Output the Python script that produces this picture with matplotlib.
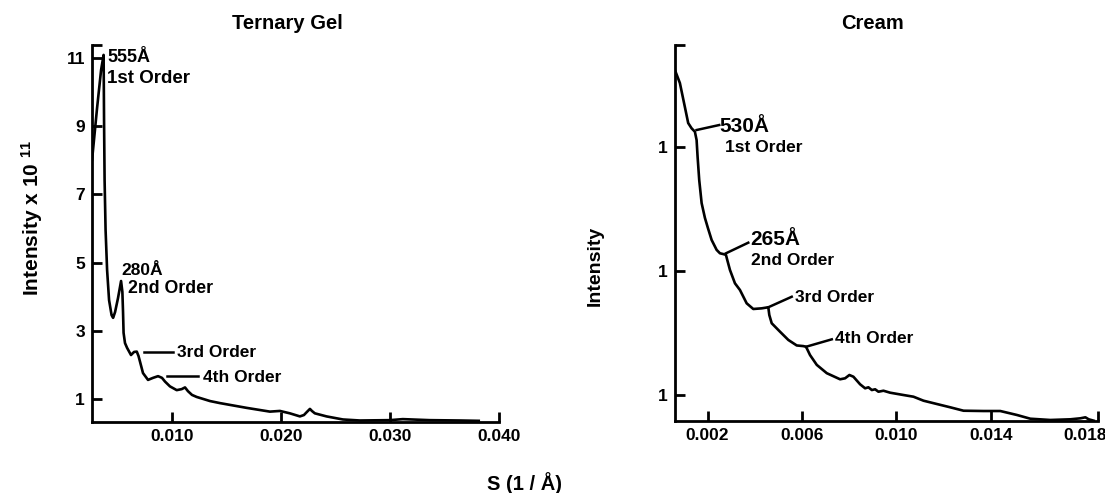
import matplotlib
matplotlib.use('Agg')
import matplotlib.pyplot as plt
from matplotlib.ticker import FixedLocator, NullFormatter

plt.rcParams['font.family'] = ['Liberation Sans', 'DejaVu Sans']
plt.rcParams['font.weight'] = 'bold'
plt.rcParams['mathtext.fontset'] = 'custom'
plt.rcParams['mathtext.rm'] = 'Liberation Sans:bold'
plt.rcParams['mathtext.default'] = 'rm'

# Ternary gel scattering curve (S in 1/A, intensity x 1e11)
gel_s = [0.00270, 0.00316, 0.00353, 0.00376, 0.00380, 0.00385, 0.00394, 0.00408,
         0.00426, 0.00449, 0.00463, 0.00481, 0.00508, 0.00536, 0.00548, 0.00554,
         0.00559, 0.00572, 0.00591, 0.00627, 0.00655, 0.00680, 0.00696, 0.00710,
         0.00737, 0.00783, 0.00829, 0.00875, 0.00911, 0.00939, 0.00984, 0.01046,
         0.01092, 0.01122, 0.01149, 0.01186, 0.01229, 0.01351, 0.01442, 0.01687,
         0.01900, 0.01992, 0.02083, 0.02175, 0.02212, 0.02239, 0.02267, 0.02285,
         0.02312, 0.02419, 0.02569, 0.02724, 0.02999, 0.03118, 0.03365, 0.03640,
         0.03814]
gel_i = [8.01, 9.53, 10.65, 11.09, 9.18, 7.42, 5.96, 4.78,
         3.90, 3.46, 3.38, 3.55, 3.96, 4.46, 4.14, 3.55,
         2.94, 2.64, 2.50, 2.29, 2.38, 2.39, 2.26, 2.09,
         1.76, 1.56, 1.62, 1.67, 1.62, 1.51, 1.37, 1.26,
         1.29, 1.34, 1.23, 1.12, 1.06, 0.94, 0.88, 0.74,
         0.63, 0.65, 0.58, 0.49, 0.53, 0.62, 0.71, 0.65,
         0.58, 0.49, 0.40, 0.37, 0.38, 0.41, 0.38, 0.37,
         0.36]
gel_xticks = [0.010, 0.020, 0.030, 0.040]
gel_yticks = [1, 3, 5, 7, 9, 11]

# Cream scattering curve (log intensity)
cream_s = [0.000613, 0.000825, 0.001037, 0.001177, 0.001321, 0.001461, 0.001533, 0.001576,
           0.001644, 0.001746, 0.001886, 0.002013, 0.002170, 0.002382, 0.002522, 0.002662,
           0.002776, 0.002831, 0.002946, 0.003158, 0.003370, 0.003654, 0.003934, 0.004291,
           0.004571, 0.004613, 0.004715, 0.005067, 0.005419, 0.005775, 0.006055, 0.006170,
           0.006339, 0.006624, 0.007048, 0.007612, 0.007824, 0.008006, 0.008176, 0.008460,
           0.008672, 0.008812, 0.008957, 0.009097, 0.009236, 0.009449, 0.009733, 0.010297,
           0.010721, 0.011145, 0.011714, 0.012278, 0.012842, 0.013690, 0.014399, 0.015107,
           0.015671, 0.016520, 0.017368, 0.017792, 0.018004, 0.018144, 0.018356]
cream_i = [418, 328, 210, 156, 141.5, 132.8, 113.8, 83.0,
           54.2, 35.3, 26.8, 22.2, 17.8, 14.8, 13.9, 13.7,
           13.5, 12.3, 10.2, 7.96, 7.03, 5.49, 4.94, 5.00,
           5.10, 4.42, 3.79, 3.24, 2.78, 2.51, 2.48, 2.45,
           2.10, 1.75, 1.50, 1.339, 1.364, 1.45, 1.405, 1.22,
           1.133, 1.154, 1.097, 1.112, 1.063, 1.083, 1.044, 1.0,
           0.969, 0.900, 0.846, 0.796, 0.747, 0.743, 0.743, 0.690,
           0.644, 0.629, 0.637, 0.649, 0.661, 0.637, 0.621]
cream_xticks = [0.002, 0.006, 0.010, 0.014, 0.018]
cream_yticks = [1, 10, 100]
cream_ytick_labels = ['1', '1', '1']

# annotations: (text, text x, text y, size, leader line or None)
gel_notes = [
    ('555Å', 0.00408, 11.0, 13, None),
    ('1st Order', 0.00408, 10.41, 13.5, None),
    ('280Å', 0.00542, 4.78, 12.5, None),
    ('2nd Order', 0.00600, 4.23, 12.8, None),
    ('3rd Order', 0.01049, 2.35, 12.5, ((0.00746, 0.01009), (2.38, 2.38))),
    ('4th Order', 0.01287, 1.645, 12.5, ((0.00954, 0.01241), (1.674, 1.674))),
]
cream_notes = [
    ('530Å', 0.00252, 145.8, 15, ((0.001533, 0.002492), (137.1, 150.4))),
    ('1st Order', 0.00273, 100.0, 12.5, None),
    ('265Å', 0.00379, 18.0, 15, ((0.002776, 0.003722), (13.89, 16.92))),
    ('2nd Order', 0.00384, 12.1, 12.5, None),
    ('3rd Order', 0.00570, 6.14, 12.5, ((0.004571, 0.005563), (5.10, 6.20))),
    ('4th Order', 0.00740, 2.866, 12.5, ((0.006170, 0.007260), (2.45, 2.812))),
]


def style_axes(ax):
    for side in ['top', 'right']:
        ax.spines[side].set_visible(False)
    for side in ['left', 'bottom']:
        ax.spines[side].set_linewidth(2.0)
    ax.tick_params(which='both', direction='in', length=7.5, width=2.0,
                   labelsize=12.5, pad=5)
    for lab in ax.get_xticklabels() + ax.get_yticklabels():
        lab.set_fontweight('bold')


def add_notes(ax, notes):
    for text, x, y, size, leader in notes:
        ax.text(x, y, text, fontsize=size, fontweight='bold',
                ha='left', va='center')
        if leader is not None:
            ax.plot(leader[0], leader[1], color='black', lw=1.8)


fig = plt.figure(figsize=(11.05, 4.93), dpi=100)

# left panel
ax1 = fig.add_axes([0.0833, 0.144, 0.3683, 0.7647])
ax1.plot(gel_s, gel_i, color='black', lw=1.9)
ax1.set_xlim(0.0027, 0.040)
ax1.set_ylim(0.3255, 11.38)
ax1.set_xticks(gel_xticks)
ax1.set_xticklabels(['%.3f' % t for t in gel_xticks])
ax1.set_yticks(gel_yticks)
ax1.set_yticklabels([str(t) for t in gel_yticks])
ax1.yaxis.set_minor_locator(FixedLocator([11.38]))
ax1.yaxis.set_minor_formatter(NullFormatter())
style_axes(ax1)
add_notes(ax1, gel_notes)

# right panel
ax2 = fig.add_axes([0.6109, 0.146, 0.3828, 0.7627])
ax2.plot(cream_s, cream_i, color='black', lw=1.9)
ax2.set_yscale('log')
ax2.set_xlim(0.00062, 0.01854)
ax2.set_ylim(0.617, 664.5)
ax2.set_xticks(cream_xticks)
ax2.set_xticklabels(['%.3f' % t for t in cream_xticks])
ax2.set_yticks(cream_yticks)
ax2.set_yticklabels(cream_ytick_labels)
ax2.yaxis.set_minor_locator(FixedLocator([664.5]))
ax2.yaxis.set_minor_formatter(NullFormatter())
ax2.xaxis.set_minor_locator(FixedLocator([0.01854]))
style_axes(ax2)
ax2.xaxis.get_major_ticks()[-1].tick1line.set_visible(False)
add_notes(ax2, cream_notes)

# titles and axis labels
fig.text(0.2597, 0.953, 'Ternary Gel', fontsize=14.5, fontweight='bold',
         ha='center', va='center')
fig.text(0.790, 0.953, 'Cream', fontsize=14.5, fontweight='bold',
         ha='center', va='center')
fig.text(0.029, 0.558, 'Intensity x 10 $^{11}$', fontsize=15, fontweight='bold',
         rotation=90, ha='center', va='center')
fig.text(0.539, 0.460, 'Intensity', fontsize=14, fontweight='bold',
         rotation=90, ha='center', va='center')
fig.text(0.475, 0.020, 'S (1 / Å)', fontsize=14.5, fontweight='bold',
         ha='center', va='center')

fig.savefig('out.png', dpi=100)
